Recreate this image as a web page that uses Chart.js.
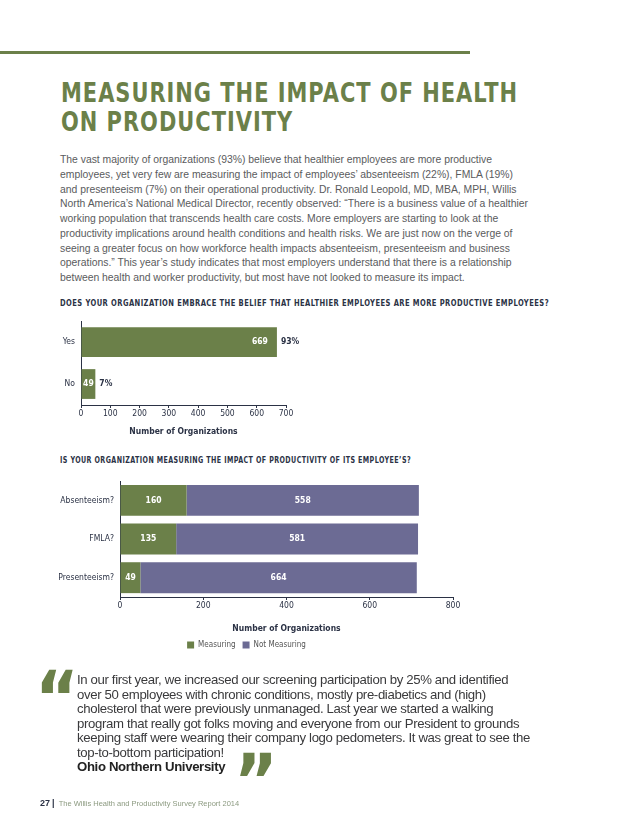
<!DOCTYPE html>
<html>
<head>
<meta charset="utf-8">
<script src="https://cdn.jsdelivr.net/npm/chart.js@4.4.1/dist/chart.umd.min.js"></script>
<style>
  html, body { margin: 0; padding: 0; background: #fff; }
  body { width: 638px; height: 826px; position: relative; overflow: hidden; font-family: 'Liberation Sans', Arial, sans-serif; }
  .abs { position: absolute; white-space: nowrap; }
  #rule { position: absolute; left: 0; top: 51px; width: 470px; height: 3px; background: #6b8049; }
  #title { left: 61px; top: 79px; font: bold 26px 'DejaVu Sans', sans-serif; line-height: 29px; color: #6b8049; }
  #body { left: 60px; top: 153px; font-size: 10.4px; line-height: 14.75px; color: #5a5b5d; }
  .qtitle { font: bold 9.5px 'DejaVu Sans', sans-serif; color: #2b3245; line-height: 12px; }
  #q1 { left: 60px; top: 297px; }
  #q2 { left: 60px; top: 454px; }
  .chartbox { position: absolute; }
  #quote { left: 77px; top: 673px; font-size: 13.2px; line-height: 14.5px; color: #3a3a3c; }
  #quote b { color: #222; }
  .mark { font: bold 74px 'DejaVu Sans Condensed', 'Liberation Sans', sans-serif; color: #6b8049; line-height: 74px; }
  #open { left: 35px; top: 661px; }
  #close { left: 234px; top: 744px; }
  #footer { left: 40px; top: 798px; font-size: 7.5px; color: #8c9a80; line-height: 10px; }
  #footer b { color: #2b3245; font-size: 9px; }
</style>
</head>
<body>
<div id="rule"></div>
<div id="title" class="abs" data-ref="0" data-w="457" data-ls="1.2">MEASURING THE IMPACT OF HEALTH<br>ON PRODUCTIVITY</div>

<div id="body" class="abs" data-ref="3" data-w="468">
<div>The vast majority of organizations (93%) believe that healthier employees are more productive</div>
<div>employees, yet very few are measuring the impact of employees’ absenteeism (22%), FMLA (19%)</div>
<div>and presenteeism (7%) on their operational productivity. Dr. Ronald Leopold, MD, MBA, MPH, Willis</div>
<div>North America’s National Medical Director, recently observed: “There is a business value of a healthier</div>
<div>working population that transcends health care costs. More employers are starting to look at the</div>
<div>productivity implications around health conditions and health risks. We are just now on the verge of</div>
<div>seeing a greater focus on how workforce health impacts absenteeism, presenteeism and business</div>
<div>operations.” This year’s study indicates that most employers understand that there is a relationship</div>
<div>between health and worker productivity, but most have not looked to measure its impact.</div>
</div>

<div id="q1" class="abs qtitle" data-ref="0" data-w="489" data-ls="0.6">DOES YOUR ORGANIZATION EMBRACE THE BELIEF THAT HEALTHIER EMPLOYEES ARE MORE PRODUCTIVE EMPLOYEES?</div>
<div class="chartbox" style="left:40px;top:310px;width:290px;height:127px;"><canvas id="beliefChart"></canvas></div>

<div id="q2" class="abs qtitle" data-ref="0" data-w="351" data-ls="0.6">IS YOUR ORGANIZATION MEASURING THE IMPACT OF PRODUCTIVITY OF ITS EMPLOYEE’S?</div>
<div class="chartbox" style="left:40px;top:470px;width:430px;height:189px;"><canvas id="measureChart"></canvas></div>

<div id="open" class="abs mark">“</div>
<div id="quote" class="abs" data-ref="4" data-w="453">
<div>In our first year, we increased our screening participation by 25% and identified</div>
<div>over 50 employees with chronic conditions, mostly pre-diabetics and (high)</div>
<div>cholesterol that were previously unmanaged. Last year we started a walking</div>
<div>program that really got folks moving and everyone from our President to grounds</div>
<div>keeping staff were wearing their company logo pedometers. It was great to see the</div>
<div>top-to-bottom participation!</div>
<div><b>Ohio Northern University</b></div>
</div>
<div id="close" class="abs mark">”</div>

<div id="footer" class="abs"><b>27</b> <b>|</b>&nbsp; The Willis Health and Productivity Survey Report 2014</div>

<script>
// ---- data ----
const beliefLabels = ['Yes', 'No'];
const beliefCounts = [669, 49];
const beliefPercents = ['93%', '7%'];

const measureLabels = ['Absenteeism?', 'FMLA?', 'Presenteeism?'];
const measuringCounts = [160, 135, 49];
const notMeasuringCounts = [558, 581, 664];
const seriesNames = ['Measuring', 'Not Measuring'];

const GREEN = '#6b8049';
const PURPLE = '#6c6b94';
const INK = '#2b3245';
const CHART_FONT = "'DejaVu Sans Condensed', 'Liberation Sans Narrow', sans-serif";

// make the reference line of a block reach the width it has on the page:
// with data-ls the glyphs get that spacing and the block is squeezed (condensed look),
// otherwise the letter-spacing alone is adjusted
function fitText(el) {
    const target = parseFloat(el.dataset.w);
    const idx = parseInt(el.dataset.ref, 10);
    const lines = el.querySelectorAll(':scope > div');
    let text;
    if (lines.length) text = lines[idx].textContent;
    else text = el.innerHTML.split('<br>')[idx].replace(/<[^>]+>/g, '');
    if (el.dataset.ls) el.style.letterSpacing = el.dataset.ls + 'px';
    const probe = document.createElement('span');
    probe.textContent = text;
    probe.style.whiteSpace = 'nowrap';
    probe.style.position = 'absolute';
    el.appendChild(probe);
    const w = probe.getBoundingClientRect().width;
    el.removeChild(probe);
    if (el.dataset.ls) {
        el.style.transformOrigin = '0 0';
        el.style.transform = 'scaleX(' + (target / w) + ')';
    } else {
        el.style.letterSpacing = ((target - w) / text.length) + 'px';
    }
}
document.querySelectorAll('[data-w]').forEach(fitText);

// bar value labels
const valueLabels = {
    id: 'valueLabels',
    afterDatasetsDraw(chart, args, opts) {
        const { ctx } = chart;
        ctx.save();
        ctx.textBaseline = 'middle';
        chart.data.datasets.forEach((ds, di) => {
            chart.getDatasetMeta(di).data.forEach((bar, i) => {
                ctx.font = 'bold 8.5px ' + CHART_FONT;
                ctx.fillStyle = '#fff';
                const w = bar.x - bar.base;
                if (opts.mode === 'end') {
                    if (w < 30) {
                        ctx.textAlign = 'center';
                        ctx.fillText(ds.data[i], (bar.x + bar.base) / 2, bar.y);
                    } else {
                        ctx.textAlign = 'right';
                        ctx.fillText(ds.data[i], bar.x - 9, bar.y);
                    }
                    ctx.fillStyle = INK;
                    ctx.textAlign = 'left';
                    ctx.fillText(opts.extra[i], bar.x + 4, bar.y);
                } else {
                    ctx.textAlign = 'center';
                    ctx.fillText(ds.data[i], (bar.x + bar.base) / 2, bar.y);
                }
            });
        });
        ctx.restore();
    }
};

Chart.defaults.font.family = CHART_FONT;
Chart.defaults.font.size = 8.5;
Chart.defaults.color = INK;

function axisTitle() {
    return { display: true, text: 'Number of Organizations', font: { size: 8.5, weight: 'bold' }, color: INK, padding: 0 };
}

new Chart(document.getElementById('beliefChart'), {
    type: 'bar',
    data: {
        labels: beliefLabels,
        datasets: [{ data: beliefCounts, backgroundColor: GREEN, barPercentage: 0.71, categoryPercentage: 1 }]
    },
    options: {
        indexAxis: 'y',
        responsive: true,
        maintainAspectRatio: false,
        animation: false,
        layout: { padding: { top: 9, right: 44, left: 0, bottom: 0 } },
        plugins: {
            legend: { display: false },
            tooltip: { enabled: false },
            valueLabels: { mode: 'end', extra: beliefPercents }
        },
        scales: {
            x: {
                min: 0, max: 700,
                ticks: { stepSize: 100, padding: 1, color: INK },
                grid: { drawOnChartArea: false, drawTicks: true, tickLength: 3, color: INK },
                border: { color: INK, width: 1 },
                title: axisTitle(),
                afterFit(s) { s.height = 32; }
            },
            y: {
                ticks: { padding: 6, color: INK },
                grid: { display: false, drawTicks: false },
                border: { color: INK, width: 1 },
                afterFit(s) { s.width = 41; }
            }
        }
    },
    plugins: [valueLabels]
});

new Chart(document.getElementById('measureChart'), {
    type: 'bar',
    data: {
        labels: measureLabels,
        datasets: [
            { label: seriesNames[0], data: measuringCounts, backgroundColor: GREEN, barPercentage: 0.8, categoryPercentage: 1 },
            { label: seriesNames[1], data: notMeasuringCounts, backgroundColor: PURPLE, barPercentage: 0.8, categoryPercentage: 1 }
        ]
    },
    options: {
        indexAxis: 'y',
        responsive: true,
        maintainAspectRatio: false,
        animation: false,
        layout: { padding: { top: 10, right: 17, left: 0, bottom: 0 } },
        plugins: {
            legend: {
                position: 'bottom',
                labels: { boxWidth: 7, boxHeight: 7, padding: 7, color: '#555', font: { size: 8 } }
            },
            tooltip: { enabled: false },
            valueLabels: { mode: 'center' }
        },
        scales: {
            x: {
                stacked: true,
                min: 0, max: 800,
                ticks: { stepSize: 200, padding: 1, color: INK },
                grid: { drawOnChartArea: false, drawTicks: true, tickLength: 3, color: INK },
                border: { color: INK, width: 1 },
                title: axisTitle(),
                afterFit(s) { s.height = 37; }
            },
            y: {
                stacked: true,
                ticks: { padding: 6, color: INK },
                grid: { display: false, drawTicks: false },
                border: { color: INK, width: 1 },
                afterFit(s) { s.width = 80; }
            }
        }
    },
    plugins: [valueLabels]
});
</script>
</body>
</html>
